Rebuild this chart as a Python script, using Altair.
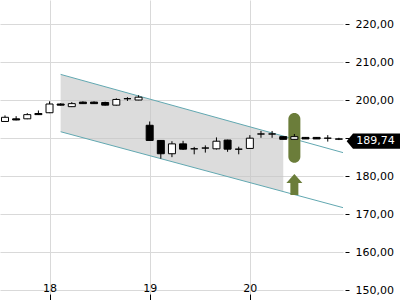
import altair as alt
import pandas as pd

# ---- candle data (hourly-like bars, index 0..30) ----
idx = list(range(31))
opens  = [194.4, 195.1, 195.1, 196.5, 196.7, 199.0, 198.3, 199.5, 199.5, 199.4,
          198.7, 200.4, 200.05, 193.4, 189.4, 185.9, 188.5, 187.2, 187.4, 187.2,
          189.5, 187.1, 187.3, 191.1, 191.1, 190.4, 189.7, 190.2, 190.2, 190.0, 189.8]
highs  = [196.0, 195.8, 196.6, 197.3, 199.7, 199.2, 199.5, 199.7, 199.7, 199.6,
          200.5, 200.8, 201.3, 194.4, 189.5, 189.2, 189.3, 187.7, 188.1, 190.2,
          189.6, 187.75, 190.8, 191.9, 191.9, 190.5, 191.1, 190.3, 190.3, 190.8, 190.1]
lows   = [194.3, 194.7, 195.0, 196.1, 196.6, 198.6, 198.2, 199.0, 199.0, 198.6,
          198.6, 199.8, 200.0, 189.3, 184.6, 185.0, 186.9, 185.75, 186.2, 187.0,
          186.4, 185.75, 187.2, 190.1, 190.1, 189.7, 189.6, 189.8, 189.8, 189.1, 189.5]
closes = [195.5, 194.8, 196.2, 196.2, 199.0, 198.7, 199.1, 199.1, 199.1, 198.7,
          200.2, 200.4, 200.8, 189.4, 185.9, 188.5, 187.1, 187.2, 187.4, 189.2,
          187.1, 187.1, 190.0, 191.1, 191.1, 189.7, 190.4, 189.8, 189.8, 190.0, 189.74]

day_tick_index = [4, 13, 22]
day_labels = ["18", "19", "20"]
y_ticks = [150, 160, 170, 180, 190, 200, 210, 220]

# ---- trend channel ----
channel_x = [5, 30.37]
channel_upper = [206.8, 186.2]
channel_lower = [191.7, 171.7]
band_x = [5, 25]
band_upper = [206.8, 190.6]
band_lower = [191.7, 175.95]

# ---- signal markers ----
signal_index = [26]
signal_low = [183.5]
signal_high = [196.6]
arrow_index = [26]
arrow_value = [177.8]
last_price = [189.74]

candles = pd.DataFrame({"i": idx, "open": opens, "high": highs, "low": lows, "close": closes})
lines = pd.DataFrame({
    "i": channel_x * 2,
    "v": channel_upper + channel_lower,
    "g": ["upper"] * len(channel_x) + ["lower"] * len(channel_x),
})
band = pd.DataFrame({"i": band_x, "up": band_upper, "lo": band_lower})
signal = pd.DataFrame({"i": signal_index, "lo": signal_low, "hi": signal_high})
arrow = pd.DataFrame({"i": arrow_index, "v": arrow_value})
price = pd.DataFrame({"p": last_price,
                      "t": [f"{v:.2f}".replace(".", ",") for v in last_price]})

xscale = alt.Scale(domain=[-0.45, 30.37], nice=False, zero=False, padding=0)
yscale = alt.Scale(domain=[148.95, 226.4], nice=False, zero=False, padding=0)

label_expr = " : ".join(
    f"datum.value == {t} ? '{l}'" for t, l in zip(day_tick_index[:-1], day_labels[:-1])
) + f" : '{day_labels[-1]}'"

xaxis = alt.Axis(values=day_tick_index, labelExpr=label_expr, title=None, orient="bottom",
                 domain=False, grid=True, gridColor="#d9d9d9", tickColor="#000000",
                 tickSize=6, labelPadding=-9, labelBaseline="alphabetic",
                 labelFont="DejaVu Sans", labelFontSize=11, labelColor="#000000")
yaxis = alt.Axis(values=y_ticks, title=None, orient="right", domain=False, grid=True,
                 gridColor="#d9d9d9", tickColor="#000000", tickSize=4, offset=2,
                 labelPadding=6, labelFont="DejaVu Sans", labelFontSize=11,
                 labelColor="#000000",
                 labelExpr="replace(format(datum.value, '.2f'), '.', ',')")

def X(field):
    return alt.X(field, type="quantitative", scale=xscale, axis=xaxis)

def Y(field):
    return alt.Y(field, type="quantitative", scale=yscale, axis=yaxis)

band_layer = alt.Chart(band).mark_area(color="#c4c4c4", opacity=0.6).encode(
    x=X("i"), y=Y("up"), y2="lo")

line_layer = alt.Chart(lines).mark_line(color="#62a8b1", strokeWidth=1).encode(
    x=X("i"), y=Y("v"), detail="g:N")

signal_layer = alt.Chart(signal).mark_bar(width=12, cornerRadius=6, color="#6b7d3a").encode(
    x=X("i"), y=Y("lo"), y2="hi")

arrow_path = "M0,-1.05 L0.8,-0.15 L0.4,-0.15 L0.4,1.05 L-0.4,1.05 L-0.4,-0.15 L-0.8,-0.15 Z"
arrow_layer = alt.Chart(arrow).mark_point(shape=arrow_path, size=400, filled=True,
                                          color="#6b7d3a", opacity=1).encode(
    x=X("i"), y=Y("v"))

wick_layer = alt.Chart(candles).mark_rule(color="#000000", strokeWidth=1).encode(
    x=X("i"), y=Y("low"), y2="high")

body_layer = alt.Chart(candles).mark_bar(width=7, stroke="#000000", strokeWidth=1).encode(
    x=X("i"), y=Y("open"), y2="close",
    fill=alt.condition("datum.close >= datum.open", alt.value("#ffffff"), alt.value("#000000")))

tag_path = "M-1.242,0 L-0.979,-0.32 L0.979,-0.32 L0.979,0.32 L-0.979,0.32 Z"
tag_layer = alt.Chart(price).mark_point(shape=tag_path, size=2304, filled=True,
                                        color="#000000", opacity=1, yOffset=2).encode(
    x=alt.value(376.5), y=Y("p"))
tag_text = alt.Chart(price).mark_text(color="#ffffff", font="DejaVu Sans", fontSize=11,
                                      align="center", baseline="middle", yOffset=2).encode(
    x=alt.value(375.5), y=Y("p"), text="t:N")

chart = alt.layer(band_layer, line_layer, signal_layer, arrow_layer, wick_layer, body_layer,
                  tag_layer, tag_text).properties(
    width=343, height=294, padding={"left": 0, "top": 0, "right": 0, "bottom": 0},
    background="#ffffff"
).configure_view(stroke=None)

chart.save("out.html", embed_options={"renderer": "svg", "actions": False})
